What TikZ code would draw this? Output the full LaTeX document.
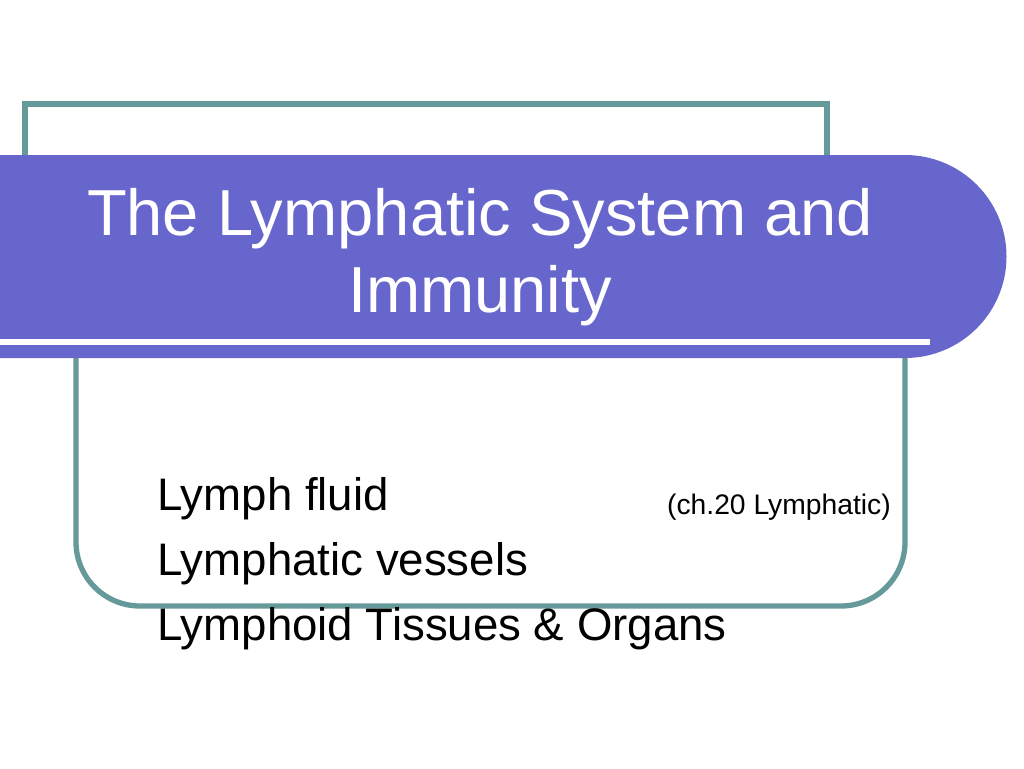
\documentclass[tikz,border=0pt]{standalone}
\usepackage{fontspec}
\setmainfont{Liberation Sans}
\usepackage{tikz}

\definecolor{bandblue}{RGB}{102,102,204}
\definecolor{frameteal}{RGB}{102,153,153}

\begin{document}
\begin{tikzpicture}[x=0.75pt,y=-0.75pt,
  frame/.style={draw=frameteal, line width=4pt},
  titletext/.style={anchor=base, inner sep=0pt, text=white, font=\fontsize{48.8}{58}\selectfont},
  itemtext/.style={anchor=base west, inner sep=0pt, font=\fontsize{34.2}{40}\selectfont},
  notetext/.style={anchor=base east, inner sep=0pt, font=\fontsize{21.2}{25}\selectfont}]

 \useasboundingbox (0,0) rectangle (1024,768);
 % frames behind the band
 \draw[frame] (25,300) -- (25,104) -- (827,104) -- (827,300);
 \draw[frame, rounded corners=48] (76,300) -- (76,606) -- (905,606) -- (905,300);
 % title band
 \fill[bandblue] (0,155) -- (905,155) arc[start angle=-90, end angle=90, radius=101.5] -- (0,358) -- cycle;
 \draw[white, line width=4.5pt] (0,342) -- (930,342);
 \path (480,235) node(title1)[titletext]{The Lymphatic System and};
 \path (480,312) node(title2)[titletext]{Immunity};
 % items
 \path (157,510.5) node(item1)[itemtext]{Lymph fluid};
 \path (157,575.5) node(item2)[itemtext]{Lymphatic vessels};
 \path (157,640) node(item3)[itemtext]{Lymphoid Tissues \& Organs};
 \path (891,514) node(note1)[notetext]{(ch.20 Lymphatic)};
\end{tikzpicture}
\end{document}
